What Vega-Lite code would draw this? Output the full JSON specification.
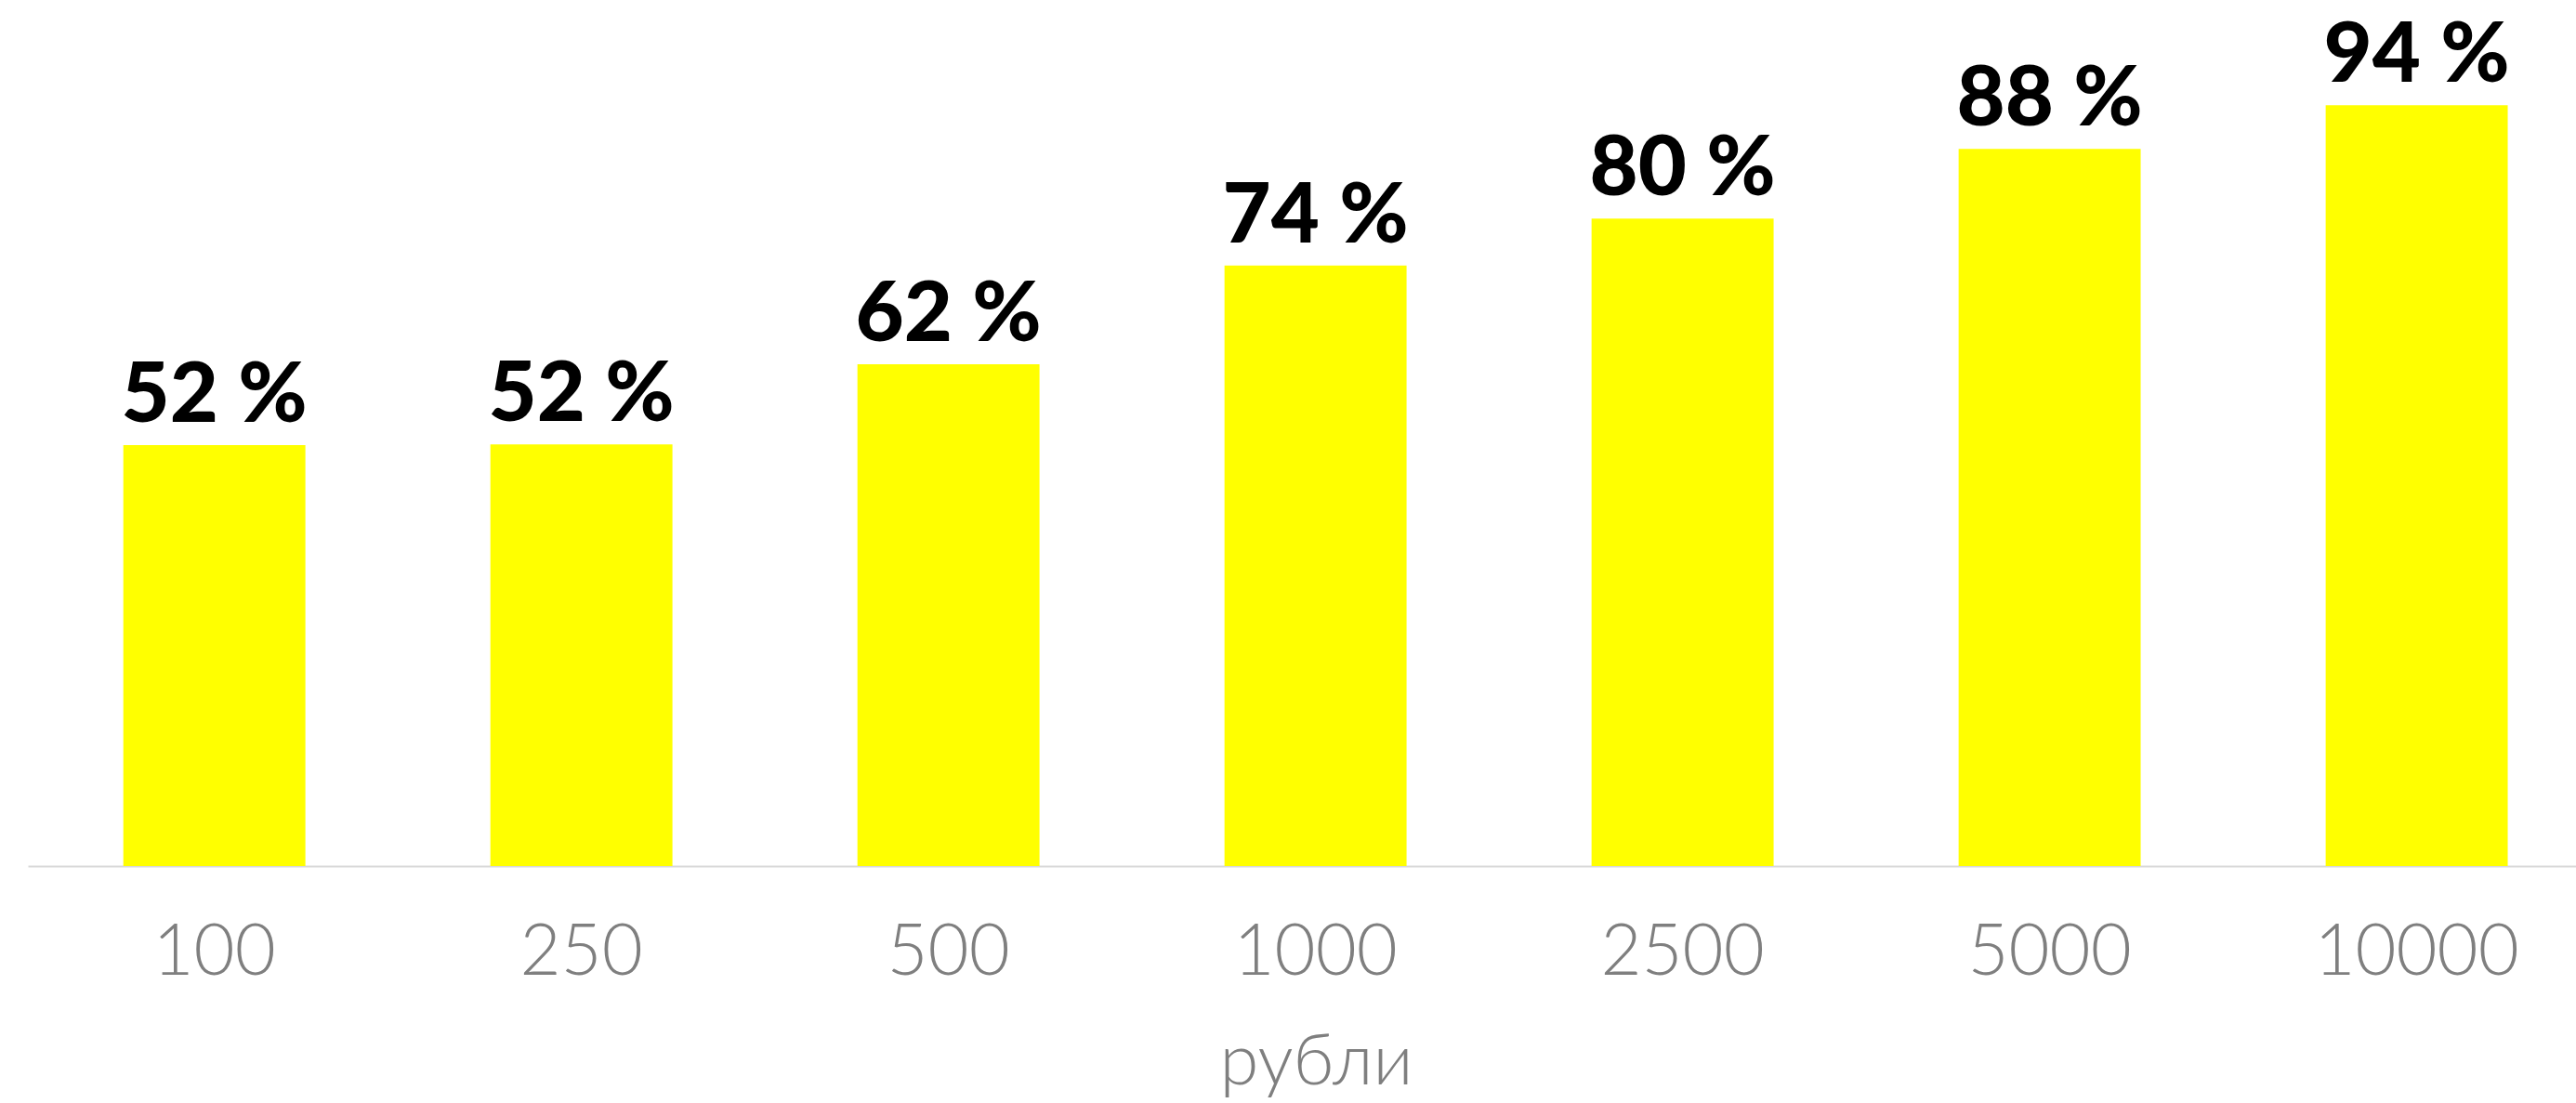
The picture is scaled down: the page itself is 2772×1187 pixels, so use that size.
{
  "$schema": "https://vega.github.io/schema/vega-lite/v6.json",
  "autosize": {"type": "none"},
  "padding": {"left": 30, "top": 0, "right": 0, "bottom": 255},
  "width": 2742,
  "height": 932,
  "background": "white",
  "config": {"view": {"stroke": null}},
  "data": {"values": [
    {"sum": "100", "pct": 52, "label": "52 %"},
    {"sum": "250", "pct": 52.1, "label": "52 %"},
    {"sum": "500", "pct": 62, "label": "62 %"},
    {"sum": "1000", "pct": 74.2, "label": "74 %"},
    {"sum": "2500", "pct": 80, "label": "80 %"},
    {"sum": "5000", "pct": 88.6, "label": "88 %"},
    {"sum": "10000", "pct": 94, "label": "94 %"}
  ]},
  "encoding": {
    "x": {
      "field": "sum", "type": "nominal", "sort": null,
      "scale": {"paddingInner": 0.504, "paddingOuter": 0.223, "align": 0.583},
      "axis": {
        "title": "рубли",
        "titleFont": "Lato", "titleFontWeight": 300, "titleFontSize": 76, "titleColor": "#7f7f7f",
        "titleBaseline": "alphabetic", "titleY": 234, "titleX": 1386, "titleAnchor": "middle", "titleAlign": "center",
        "labelFont": "Lato", "labelFontWeight": 300, "labelFontSize": 76, "labelColor": "#7f7f7f",
        "labelBaseline": "alphabetic", "labelPadding": 116, "labelAngle": 0, "labelLimit": 0,
        "ticks": false, "domainColor": "#d9d9d9", "domainWidth": 2, "grid": false
      }
    },
    "y": {
      "field": "pct", "type": "quantitative",
      "scale": {"domain": [0, 107], "nice": false, "zero": true},
      "axis": null
    }
  },
  "layer": [
    {"mark": {"type": "bar", "color": "#ffff00"}},
    {"mark": {"type": "text", "baseline": "alphabetic", "align": "center", "dy": -25, "font": "Lato", "fontWeight": 900, "fontSize": 90, "color": "#000000"},
     "encoding": {"text": {"field": "label"}}}
  ]
}
